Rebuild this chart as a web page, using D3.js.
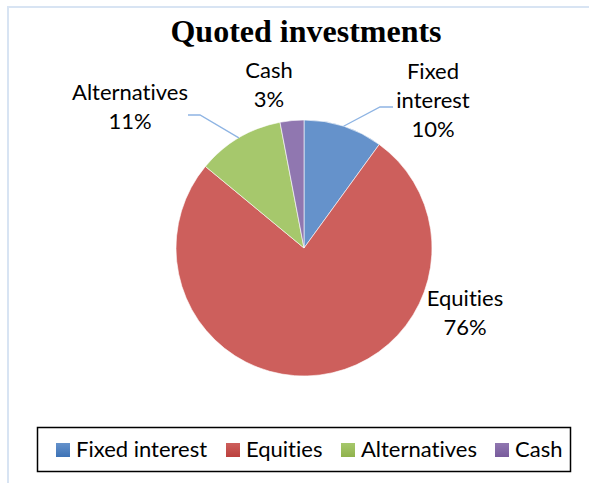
<!DOCTYPE html>
<html>
<head>
<meta charset="utf-8">
<script src="https://cdn.jsdelivr.net/npm/d3@7"></script>
<style>
  html, body { margin: 0; padding: 0; background: #fff; }
  svg { display: block; }
  text { font-variant-ligatures: none; font-feature-settings: "liga" 0; }
</style>
</head>
<body>
<svg id="chart" width="589" height="483"></svg>
<script>
// Portfolio split of quoted investments (percent)
const categories = ["Fixed interest", "Equities", "Alternatives", "Cash"];
const shares = [10, 76, 11, 3];
const sliceLight = ["#6592CB", "#CD5F5C", "#A6C86C", "#9077B0"];
const sliceDark = ["#3D72B6", "#BB403D", "#90B24C", "#785B9C"];
const titleText = "Quoted investments";

const svg = d3.select("#chart");
const labelFont = "Lato, 'Open Sans', sans-serif";
const labelSize = 22;

// Frame around the chart area
svg.append("path")
  .attr("d", "M8,490 L8,7 L600,7")
  .attr("fill", "none")
  .attr("stroke", "#D8E4F3")
  .attr("stroke-width", 2);

// Title
svg.append("text")
  .attr("x", 306)
  .attr("y", 42)
  .attr("text-anchor", "middle")
  .attr("font-family", "'Liberation Serif', 'Times New Roman', serif")
  .attr("font-weight", "bold")
  .attr("font-size", 32)
  .attr("fill", "#000")
  .text(titleText);

const cx = 304, cy = 248, radius = 128;

// Vertical shading gradients for each slice
const defs = svg.append("defs");
categories.forEach((c, i) => {
  const g = defs.append("linearGradient")
    .attr("id", "grad" + i)
    .attr("gradientUnits", "userSpaceOnUse")
    .attr("x1", 0).attr("y1", cy - radius)
    .attr("x2", 0).attr("y2", cy + radius);
  g.append("stop").attr("offset", "0%").attr("stop-color", sliceLight[i]);
  g.append("stop").attr("offset", "100%").attr("stop-color", sliceDark[i]);
});

const pie = d3.pie().sort(null).value(d => d.value);
const data = categories.map((c, i) => ({ name: c, value: shares[i], idx: i }));
const arcs = pie(data);
const arc = d3.arc().innerRadius(0).outerRadius(radius);

const plot = svg.append("g").attr("transform", `translate(${cx},${cy})`);
plot.selectAll("path.slice")
  .data(arcs)
  .join("path")
  .attr("class", "slice")
  .attr("d", arc)
  .attr("fill", d => `url(#grad${d.data.idx})`)
  .attr("stroke", "#ffffff")
  .attr("stroke-width", 0.6);

// Data labels: name + percentage, positioned per slice
const labelPos = {
  "Fixed interest": { x: 433, y: 79, lines: ["Fixed", "interest"], leader: [[393, 107], [380, 107]] },
  "Equities": { x: 465, y: 306, lines: ["Equities"], leader: null },
  "Alternatives": { x: 130, y: 100, lines: ["Alternatives"], leader: [[188, 115], [200, 115]] },
  "Cash": { x: 269, y: 78, lines: ["Cash"], leader: null }
};
const lineGap = 29;

arcs.forEach(a => {
  const p = labelPos[a.data.name];
  const lines = p.lines.concat([d3.format(".0%")(a.data.value / 100)]);
  const t = svg.append("text")
    .attr("text-anchor", "middle")
    .attr("font-family", labelFont)
    .attr("font-size", labelSize)
    .attr("fill", "#000");
  lines.forEach((ln, k) => {
    t.append("tspan").attr("x", p.x).attr("y", p.y + k * lineGap).text(ln);
  });
  if (p.leader) {
    const mid = (a.startAngle + a.endAngle) / 2;
    const ex = cx + radius * Math.sin(mid);
    const ey = cy - radius * Math.cos(mid);
    const pts = p.leader.concat([[ex, ey]]);
    svg.append("path")
      .attr("d", d3.line()(pts))
      .attr("fill", "none")
      .attr("stroke", "#8EB4E3")
      .attr("stroke-width", 1.3);
  }
});

// Legend
const legend = svg.append("g");
legend.append("rect")
  .attr("x", 37.5).attr("y", 427.5)
  .attr("width", 533).attr("height", 44)
  .attr("fill", "#fff")
  .attr("stroke", "#000")
  .attr("stroke-width", 1.5);

const legendX = [56, 226, 341, 495];
categories.forEach((c, i) => {
  const lg = defs.append("linearGradient")
    .attr("id", "lg" + i)
    .attr("x1", 0).attr("y1", 0).attr("x2", 0).attr("y2", 1);
  lg.append("stop").attr("offset", "0%").attr("stop-color", sliceLight[i]);
  lg.append("stop").attr("offset", "100%").attr("stop-color", sliceDark[i]);
  legend.append("rect")
    .attr("x", legendX[i]).attr("y", 443)
    .attr("width", 14).attr("height", 14)
    .attr("fill", `url(#lg${i})`);
  legend.append("text")
    .attr("x", legendX[i] + 20).attr("y", 457)
    .attr("font-family", labelFont)
    .attr("font-size", labelSize)
    .attr("fill", "#000")
    .text(c);
});
</script>
</body>
</html>
